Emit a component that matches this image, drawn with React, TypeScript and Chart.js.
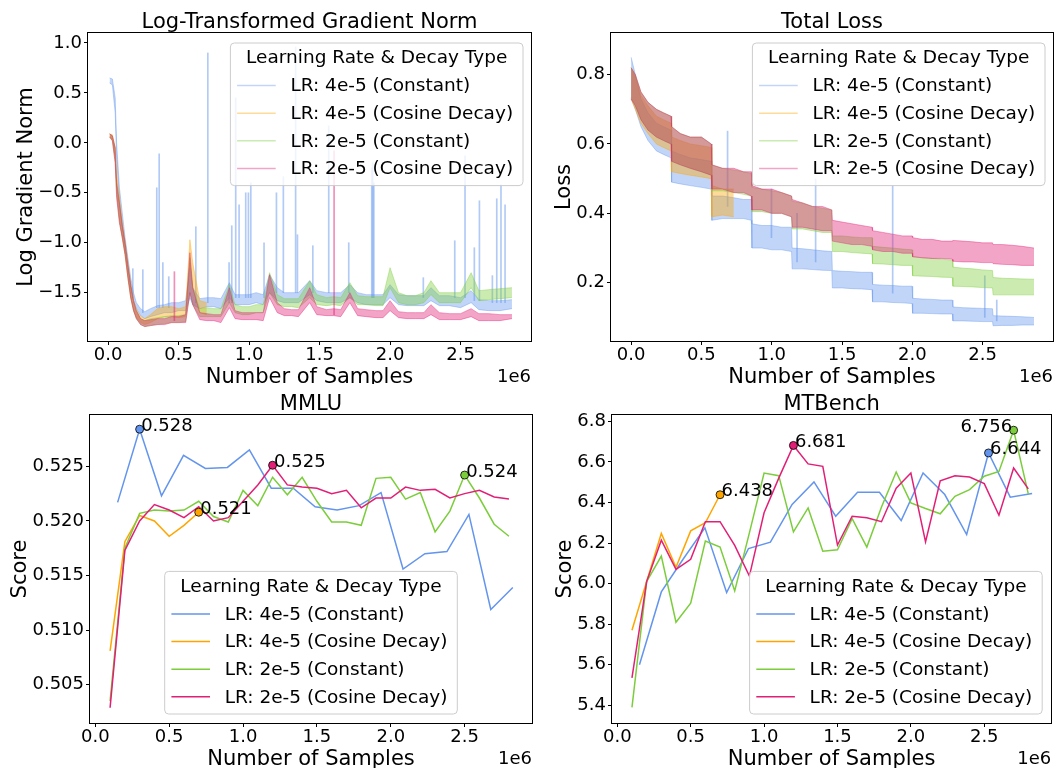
import React, { useEffect, useRef } from "react";
import { Chart, registerables } from "chart.js";
Chart.register(...registerables);

// ---------------- data ----------------
const SERIES_LABELS = [
  "LR: 4e-5 (Constant)",
  "LR: 4e-5 (Cosine Decay)",
  "LR: 2e-5 (Constant)",
  "LR: 2e-5 (Cosine Decay)",
];
const LEGEND_TITLE = "Learning Rate & Decay Type";
const SAMPLE_TICKS = [0, 0.5, 1.0, 1.5, 2.0, 2.5]; // x in units of 1e6

// Log gradient norm (training curve, envelope of the noisy trace)
const GN_X = [0.01, 0.03, 0.05, 0.06, 0.08, 0.1, 0.12, 0.14, 0.16, 0.18, 0.2, 0.23, 0.26, 0.3, 0.35, 0.4, 0.45, 0.5, 0.55, 0.58, 0.6, 0.65, 0.7, 0.75, 0.8, 0.86, 0.9, 0.95, 1.0, 1.05, 1.1, 1.145, 1.2, 1.25, 1.3, 1.35, 1.43, 1.48, 1.55, 1.6, 1.65, 1.715, 1.77, 1.83, 1.9, 1.95, 2.0, 2.06, 2.12, 2.18, 2.24, 2.29, 2.35, 2.42, 2.5, 2.575, 2.63, 2.7, 2.78, 2.865];
const GN_A_LO = [0.6, 0.58, 0.3, -0.15, -0.6, -0.85, -1.05, -1.25, -1.45, -1.58, -1.66, -1.73, -1.76, -1.74, -1.72, -1.7, -1.7, -1.68, -1.68, -1.55, -1.62, -1.66, -1.64, -1.64, -1.66, -1.55, -1.62, -1.62, -1.62, -1.6, -1.62, -1.5, -1.58, -1.6, -1.6, -1.6, -1.52, -1.58, -1.6, -1.6, -1.6, -1.55, -1.6, -1.62, -1.62, -1.62, -1.55, -1.62, -1.63, -1.63, -1.63, -1.58, -1.63, -1.63, -1.65, -1.6, -1.67, -1.68, -1.68, -1.66];
const GN_A_HI = [0.65, 0.64, 0.45, 0.0, -0.45, -0.7, -0.95, -1.15, -1.35, -1.5, -1.6, -1.66, -1.69, -1.66, -1.63, -1.62, -1.6, -1.6, -1.58, -1.25, -1.45, -1.56, -1.55, -1.55, -1.56, -1.4, -1.52, -1.52, -1.52, -1.5, -1.52, -1.32, -1.45, -1.5, -1.5, -1.5, -1.38, -1.48, -1.5, -1.5, -1.5, -1.42, -1.5, -1.52, -1.52, -1.52, -1.42, -1.52, -1.53, -1.53, -1.53, -1.45, -1.53, -1.53, -1.55, -1.48, -1.57, -1.58, -1.58, -1.57];
const GN_B_LO = [0.06, 0.03, -0.15, -0.45, -0.75, -0.95, -1.12, -1.35, -1.55, -1.68, -1.75, -1.8, -1.82, -1.8, -1.76, -1.74, -1.74, -1.75, -1.74, -1.2, -1.45, -1.7, -1.72];
const GN_B_HI = [0.09, 0.08, -0.05, -0.3, -0.55, -0.8, -1.0, -1.2, -1.42, -1.58, -1.67, -1.74, -1.76, -1.72, -1.66, -1.64, -1.64, -1.66, -1.64, -0.97, -1.2, -1.58, -1.6];
const GN_C_LO = [0.06, 0.02, -0.2, -0.52, -0.8, -0.95, -1.12, -1.35, -1.55, -1.68, -1.76, -1.82, -1.84, -1.83, -1.82, -1.81, -1.8, -1.8, -1.79, -1.5, -1.62, -1.74, -1.74, -1.74, -1.74, -1.6, -1.7, -1.72, -1.72, -1.7, -1.7, -1.5, -1.62, -1.64, -1.64, -1.65, -1.55, -1.62, -1.63, -1.62, -1.63, -1.55, -1.62, -1.62, -1.63, -1.63, -1.45, -1.6, -1.62, -1.62, -1.6, -1.52, -1.6, -1.6, -1.6, -1.45, -1.58, -1.57, -1.56, -1.55];
const GN_C_HI = [0.09, 0.07, -0.05, -0.38, -0.6, -0.82, -1.0, -1.22, -1.42, -1.58, -1.68, -1.76, -1.78, -1.76, -1.75, -1.74, -1.73, -1.73, -1.72, -1.15, -1.45, -1.66, -1.65, -1.66, -1.66, -1.42, -1.62, -1.64, -1.64, -1.62, -1.62, -1.3, -1.52, -1.56, -1.56, -1.56, -1.38, -1.52, -1.55, -1.54, -1.55, -1.4, -1.53, -1.54, -1.54, -1.54, -1.25, -1.5, -1.53, -1.53, -1.5, -1.38, -1.5, -1.5, -1.5, -1.3, -1.48, -1.47, -1.46, -1.45];
const GN_D_LO = [0.06, 0.02, -0.2, -0.55, -0.8, -0.95, -1.12, -1.35, -1.55, -1.68, -1.76, -1.82, -1.84, -1.83, -1.82, -1.82, -1.8, -1.8, -1.8, -1.5, -1.62, -1.77, -1.78, -1.78, -1.8, -1.65, -1.76, -1.77, -1.77, -1.77, -1.78, -1.55, -1.7, -1.73, -1.73, -1.74, -1.6, -1.72, -1.73, -1.73, -1.74, -1.6, -1.73, -1.74, -1.75, -1.75, -1.68, -1.75, -1.76, -1.76, -1.76, -1.72, -1.77, -1.77, -1.77, -1.74, -1.78, -1.78, -1.78, -1.76];
const GN_D_HI = [0.09, 0.07, -0.05, -0.4, -0.6, -0.82, -1.0, -1.22, -1.42, -1.58, -1.68, -1.76, -1.78, -1.77, -1.76, -1.76, -1.74, -1.74, -1.72, -1.1, -1.45, -1.7, -1.71, -1.72, -1.72, -1.45, -1.68, -1.7, -1.7, -1.7, -1.7, -1.32, -1.6, -1.66, -1.67, -1.67, -1.45, -1.64, -1.67, -1.66, -1.67, -1.5, -1.66, -1.67, -1.68, -1.68, -1.58, -1.69, -1.7, -1.7, -1.7, -1.62, -1.7, -1.71, -1.71, -1.66, -1.71, -1.71, -1.72, -1.72];
// isolated spikes of the gradient norm
const GN_A_SPIKE_X = [0.175, 0.246, 0.345, 0.362, 0.388, 0.43, 0.622, 0.707, 0.858, 0.877, 0.905, 0.929, 0.976, 0.995, 1.012, 1.106, 1.194, 1.243, 1.33, 1.343, 1.452, 1.565, 1.707, 1.87, 1.877, 1.885, 2.236, 2.459, 2.532, 2.598, 2.634, 2.726, 2.757, 2.787, 2.816];
const GN_A_SPIKE_LO = [-1.55, -1.7, -1.65, -1.65, -1.65, -1.65, -1.6, -1.6, -1.6, -1.6, -1.55, -1.55, -1.55, -1.55, -1.55, -1.55, -1.5, -1.5, -1.5, -1.5, -1.5, -1.5, -1.5, -1.55, -1.55, -1.55, -1.55, -1.55, -1.55, -1.58, -1.58, -1.6, -1.6, -1.6, -1.6];
const GN_A_SPIKE_HI = [-1.26, -1.27, -0.45, -0.11, -1.2, -1.34, -0.84, 0.9, -1.2, -0.83, 0.45, -0.62, -0.5, -0.5, -0.4, -1.0, -0.5, -0.34, 0.96, -0.92, -1.03, 0.17, -1.0, -0.25, -0.2, -0.4, -1.35, -0.98, -0.13, -1.05, -0.58, -1.33, -0.56, -0.42, -0.62];
const GN_D_SPIKE_X = [0.47, 1.603];
const GN_D_SPIKE_LO = [-1.78, -1.72];
const GN_D_SPIKE_HI = [-1.29, -0.08];

// Total loss (envelope of the noisy trace), epoch boundaries every ~0.286e6
const LOSS_X = [0.0, 0.03, 0.07, 0.12, 0.18, 0.23, 0.284, 0.288, 0.35, 0.42, 0.5, 0.57, 0.574, 0.65, 0.73, 0.8, 0.855, 0.859, 0.93, 1.0, 1.07, 1.141, 1.145, 1.22, 1.29, 1.36, 1.427, 1.431, 1.5, 1.57, 1.64, 1.713, 1.717, 1.79, 1.86, 1.93, 1.998, 2.002, 2.07, 2.14, 2.21, 2.284, 2.288, 2.36, 2.43, 2.5, 2.57, 2.574, 2.64, 2.71, 2.78, 2.865];
const LOSS_A_LO = [0.73, 0.7, 0.65, 0.61, 0.58, 0.57, 0.56, 0.49, 0.485, 0.48, 0.475, 0.47, 0.38, 0.385, 0.385, 0.385, 0.38, 0.3, 0.3, 0.295, 0.295, 0.29, 0.24, 0.24, 0.238, 0.236, 0.235, 0.185, 0.185, 0.183, 0.182, 0.18, 0.145, 0.145, 0.143, 0.142, 0.14, 0.112, 0.112, 0.111, 0.11, 0.11, 0.09, 0.09, 0.089, 0.088, 0.088, 0.076, 0.077, 0.077, 0.078, 0.078];
const LOSS_A_HI = [0.85, 0.8, 0.73, 0.69, 0.66, 0.65, 0.64, 0.58, 0.57, 0.56, 0.555, 0.55, 0.45, 0.45, 0.445, 0.44, 0.44, 0.37, 0.365, 0.365, 0.36, 0.36, 0.3, 0.298, 0.295, 0.292, 0.29, 0.235, 0.233, 0.232, 0.23, 0.23, 0.195, 0.193, 0.192, 0.19, 0.19, 0.155, 0.153, 0.152, 0.15, 0.15, 0.13, 0.128, 0.127, 0.126, 0.125, 0.105, 0.104, 0.103, 0.102, 0.1];
const LOSS_B_LO = [0.73, 0.7, 0.66, 0.63, 0.6, 0.59, 0.58, 0.52, 0.515, 0.51, 0.505, 0.5, 0.39, 0.395, 0.39];
const LOSS_B_HI = [0.82, 0.79, 0.74, 0.71, 0.68, 0.67, 0.66, 0.62, 0.61, 0.6, 0.595, 0.59, 0.48, 0.47, 0.47];
const LOSS_C_LO = [0.735, 0.71, 0.67, 0.64, 0.62, 0.61, 0.6, 0.55, 0.54, 0.53, 0.52, 0.51, 0.465, 0.465, 0.46, 0.455, 0.45, 0.405, 0.405, 0.4, 0.4, 0.39, 0.355, 0.355, 0.35, 0.345, 0.345, 0.29, 0.29, 0.287, 0.285, 0.283, 0.255, 0.254, 0.252, 0.25, 0.25, 0.22, 0.219, 0.218, 0.216, 0.215, 0.19, 0.189, 0.188, 0.186, 0.185, 0.165, 0.165, 0.165, 0.165, 0.165];
const LOSS_C_HI = [0.82, 0.8, 0.75, 0.72, 0.7, 0.69, 0.68, 0.65, 0.63, 0.62, 0.62, 0.6, 0.54, 0.53, 0.525, 0.52, 0.515, 0.475, 0.47, 0.465, 0.46, 0.45, 0.435, 0.43, 0.42, 0.415, 0.41, 0.335, 0.335, 0.332, 0.33, 0.33, 0.305, 0.302, 0.3, 0.297, 0.295, 0.275, 0.272, 0.27, 0.268, 0.265, 0.245, 0.242, 0.24, 0.237, 0.235, 0.215, 0.213, 0.212, 0.211, 0.21];
const LOSS_D_LO = [0.73, 0.71, 0.67, 0.64, 0.62, 0.61, 0.6, 0.55, 0.54, 0.53, 0.52, 0.51, 0.47, 0.47, 0.46, 0.46, 0.45, 0.41, 0.41, 0.4, 0.4, 0.39, 0.36, 0.36, 0.355, 0.35, 0.35, 0.32, 0.315, 0.31, 0.31, 0.305, 0.295, 0.29, 0.29, 0.285, 0.285, 0.275, 0.272, 0.27, 0.27, 0.268, 0.262, 0.26, 0.26, 0.258, 0.258, 0.255, 0.253, 0.252, 0.25, 0.25];
const LOSS_D_HI = [0.82, 0.8, 0.75, 0.72, 0.7, 0.69, 0.68, 0.65, 0.63, 0.62, 0.62, 0.6, 0.54, 0.53, 0.53, 0.52, 0.52, 0.48, 0.47, 0.47, 0.46, 0.45, 0.44, 0.43, 0.42, 0.42, 0.41, 0.38, 0.375, 0.37, 0.365, 0.36, 0.35, 0.345, 0.34, 0.335, 0.335, 0.33, 0.325, 0.325, 0.32, 0.32, 0.322, 0.32, 0.318, 0.315, 0.315, 0.31, 0.31, 0.308, 0.305, 0.3];
const LOSS_A_SPIKE_X = [0.686, 0.998, 1.18, 1.312, 1.86, 2.515, 2.6];
const LOSS_A_SPIKE_LO = [0.42, 0.33, 0.26, 0.26, 0.17, 0.1, 0.09];
const LOSS_A_SPIKE_HI = [0.637, 0.47, 0.4, 0.5, 0.48, 0.22, 0.15];

// Evaluation checkpoints
const EVAL_X = [0.1, 0.2, 0.3, 0.4, 0.5, 0.6, 0.7, 0.8, 0.9, 1.0, 1.1, 1.2, 1.3, 1.4, 1.5, 1.6, 1.7, 1.8, 1.9, 2.0, 2.1, 2.2, 2.3, 2.4, 2.5, 2.6, 2.7, 2.8];
const EVAL_X_A = [0.151, 0.3, 0.448, 0.597, 0.745, 0.894, 1.043, 1.191, 1.34, 1.488, 1.637, 1.786, 1.934, 2.083, 2.231, 2.38, 2.529, 2.677, 2.826];

const MMLU_A = [0.5217, 0.5284, 0.5223, 0.526, 0.5248, 0.5249, 0.5265, 0.523, 0.523, 0.5213, 0.521, 0.5214, 0.5226, 0.5156, 0.517, 0.5172, 0.5206, 0.5119, 0.5139];
const MMLU_B = [0.5081, 0.5181, 0.5205, 0.52, 0.5186, 0.5196, 0.5208];
const MMLU_C = [0.5035, 0.5175, 0.5207, 0.521, 0.5209, 0.521, 0.5218, 0.5204, 0.5199, 0.5228, 0.5214, 0.524, 0.5224, 0.524, 0.5218, 0.5199, 0.5199, 0.5196, 0.5239, 0.524, 0.522, 0.5226, 0.519, 0.5209, 0.5242, 0.5221, 0.5197, 0.5186];
const MMLU_D = [0.5029, 0.5173, 0.52, 0.5215, 0.521, 0.5203, 0.5213, 0.52, 0.5203, 0.5218, 0.5233, 0.5251, 0.5233, 0.5231, 0.523, 0.5225, 0.5228, 0.5212, 0.5221, 0.5221, 0.5231, 0.5228, 0.5229, 0.5221, 0.5225, 0.5228, 0.5222, 0.522];

const MT_A = [5.6, 5.959, 6.12, 6.275, 5.956, 6.173, 6.204, 6.39, 6.501, 6.332, 6.45, 6.45, 6.311, 6.545, 6.439, 6.242, 6.644, 6.426, 6.444];
const MT_B = [5.77, 6.01, 6.247, 6.08, 6.26, 6.3, 6.438];
const MT_C = [5.39, 6.01, 6.136, 5.81, 5.903, 6.21, 6.18, 5.964, 6.25, 6.545, 6.532, 6.255, 6.373, 6.16, 6.167, 6.32, 6.18, 6.378, 6.55, 6.398, 6.37, 6.344, 6.43, 6.463, 6.529, 6.553, 6.756, 6.442];
const MT_D = [5.535, 6.01, 6.214, 6.07, 6.12, 6.305, 6.305, 6.188, 6.037, 6.349, 6.52, 6.681, 6.59, 6.578, 6.19, 6.332, 6.325, 6.305, 6.47, 6.545, 6.206, 6.507, 6.532, 6.525, 6.493, 6.337, 6.57, 6.467];

const GN_TICKS = [-1.5, -1.0, -0.5, 0.0, 0.5, 1.0];
const LOSS_TICKS = [0.2, 0.4, 0.6, 0.8];
const MMLU_TICKS = [0.505, 0.51, 0.515, 0.52, 0.525];
const MT_TICKS = [5.4, 5.6, 5.8, 6.0, 6.2, 6.4, 6.6, 6.8];

// ---------------- styles ----------------
type RGB = [number, number, number];
const C_BLUE: RGB = [100, 149, 237];
const C_ORANGE: RGB = [255, 165, 0];
const C_GREEN: RGB = [124, 205, 60];
const C_PINK: RGB = [226, 31, 118];
const SERIES_COLORS: RGB[] = [C_BLUE, C_ORANGE, C_GREEN, C_PINK];
const rgba = (c: RGB, a: number) => `rgba(${c[0]},${c[1]},${c[2]},${a})`;
const FONT = "'DejaVu Sans', 'Liberation Sans', sans-serif";
const LEGEND_FONT = 18.5;

const pts = (xs: number[], ys: number[]) => ys.map((y, i) => ({ x: xs[i], y }));

function band(xs: number[], lo: number[], hi: number[], c: RGB, order: number) {
  return [
    { type: "line", data: pts(xs, lo), borderColor: rgba(c, 0.4), backgroundColor: rgba(c, 0.4), borderWidth: 1, pointRadius: 0, fill: "+1", order, tension: 0 },
    { type: "line", data: pts(xs, hi), borderColor: rgba(c, 0.4), backgroundColor: rgba(c, 0.4), borderWidth: 1, pointRadius: 0, fill: false, order, tension: 0 },
  ];
}
function spikes(xs: number[], lo: number[], hi: number[], c: RGB, order: number) {
  return {
    type: "bar",
    data: xs.map((x, i) => ({ x, y: [lo[i], hi[i]] })),
    backgroundColor: rgba(c, 0.5),
    borderWidth: 0,
    barThickness: 1,
    grouped: false,
    order,
  };
}
function evalLine(xs: number[], ys: number[], c: RGB, order: number) {
  return { type: "line", data: pts(xs, ys), borderColor: rgba(c, 1), borderWidth: 1.5, pointRadius: 0, fill: false, order, tension: 0 };
}
function argmax(ys: number[]) {
  let k = 0;
  ys.forEach((v, i) => { if (v > ys[k]) k = i; });
  return k;
}
function marker(xs: number[], ys: number[], c: RGB) {
  const k = argmax(ys);
  return { type: "line", data: [{ x: xs[k], y: ys[k] }], showLine: false, pointRadius: 4, pointBackgroundColor: rgba(c, 1), pointBorderColor: "#000", pointBorderWidth: 0.8, order: 0 };
}

type Spec = any;

const fmtMinus = (v: number, d: number) => {
  const s = Math.abs(v).toFixed(d);
  return v < -1e-9 ? "\u2212" + s : s;
};

function drawLegend(ctx: CanvasRenderingContext2D, x: number, y: number, light: boolean) {
  const w = 292.6, h = 142.6, r = 4;
  ctx.save();
  ctx.beginPath();
  ctx.moveTo(x + r, y);
  ctx.lineTo(x + w - r, y);
  ctx.arcTo(x + w, y, x + w, y + r, r);
  ctx.lineTo(x + w, y + h - r);
  ctx.arcTo(x + w, y + h, x + w - r, y + h, r);
  ctx.lineTo(x + r, y + h);
  ctx.arcTo(x, y + h, x, y + h - r, r);
  ctx.lineTo(x, y + r);
  ctx.arcTo(x, y, x + r, y, r);
  ctx.closePath();
  ctx.fillStyle = "rgba(255,255,255,0.8)";
  ctx.fill();
  ctx.strokeStyle = "rgba(204,204,204,1)";
  ctx.lineWidth = 1;
  ctx.stroke();
  ctx.fillStyle = "#000";
  ctx.font = `${LEGEND_FONT}px ${FONT}`;
  ctx.textAlign = "center";
  ctx.textBaseline = "middle";
  ctx.fillText(LEGEND_TITLE, x + w / 2, y + 15.5);
  ctx.textAlign = "left";
  SERIES_LABELS.forEach((lab, i) => {
    const cy = y + 42.6 + i * 27.6;
    ctx.strokeStyle = rgba(SERIES_COLORS[i], light ? 0.4 : 1);
    ctx.lineWidth = 1.5;
    ctx.beginPath();
    ctx.moveTo(x + 6.7, cy);
    ctx.lineTo(x + 45.3, cy);
    ctx.stroke();
    ctx.fillStyle = "#000";
    ctx.fillText(lab, x + 60, cy + 1);
  });
  ctx.restore();
}

function decor(spec: Spec) {
  return {
    id: "decor",
    afterDraw(chart: any) {
      const ctx: CanvasRenderingContext2D = chart.ctx;
      const a = chart.chartArea;
      const sx = chart.scales.x, sy = chart.scales.y;
      ctx.save();
      // frame
      ctx.strokeStyle = "#000";
      ctx.lineWidth = 1;
      ctx.strokeRect(Math.round(a.left) - 0.5, Math.round(a.top) - 0.5, Math.round(a.right - a.left) + 1, Math.round(a.bottom - a.top) + 1);
      // annotations
      ctx.font = `18px ${FONT}`;
      ctx.fillStyle = "#000";
      ctx.textBaseline = "alphabetic";
      (spec.annotations || []).forEach((an: any) => {
        const k = argmax(an.ys);
        const px = sx.getPixelForValue(an.xs[k]);
        const py = sy.getPixelForValue(an.ys[k]);
        ctx.textAlign = an.align;
        ctx.fillText(an.ys[k].toFixed(3), px + (an.align === "left" ? 1.5 : -1.5), py + 1.5);
      });
      // title
      const cx = (a.left + a.right) / 2;
      ctx.textAlign = "center";
      ctx.font = `21px ${FONT}`;
      ctx.fillText(spec.title, cx, a.top - 5);
      // x title
      ctx.fillText("Number of Samples", cx, a.bottom + 42);
      // offset text
      ctx.font = `18px ${FONT}`;
      ctx.textAlign = "right";
      ctx.fillText("1e6", a.right, a.bottom + 40.5);
      // y title
      ctx.save();
      ctx.translate(spec.yTitleX, (a.top + a.bottom) / 2);
      ctx.rotate(-Math.PI / 2);
      ctx.textAlign = "center";
      ctx.font = `21px ${FONT}`;
      ctx.fillText(spec.yTitle, 0, 0);
      ctx.restore();
      // legend
      const lg = spec.legend;
      let lx = 0, ly = 0;
      if (lg.pos === "upper right") { lx = a.right - 8 - 292.6; ly = a.top + 10; }
      else if (lg.pos === "lower center") { lx = cx - 146.3; ly = a.bottom - 9 - 142.6; }
      else { lx = a.right - 9 - 292.6; ly = a.bottom - 9 - 142.6; }
      drawLegend(ctx, lx, ly, lg.light);
      ctx.restore();
    },
  };
}

function buildConfig(spec: Spec) {
  const tickFont = { family: FONT, size: 18, lineHeight: 1 };
  return {
    type: "line",
    data: { datasets: spec.datasets },
    options: {
      responsive: false,
      maintainAspectRatio: false,
      animation: false,
      devicePixelRatio: 1,
      events: [],
      layout: { padding: { left: 0, top: spec.area.t, right: spec.width - spec.area.r, bottom: 0 } },
      plugins: { legend: { display: false }, title: { display: false }, tooltip: { enabled: false } },
      scales: {
        x: {
          type: "linear",
          min: spec.xMin,
          max: spec.xMax,
          offset: false,
          afterBuildTicks: (s: any) => { s.ticks = SAMPLE_TICKS.map((v) => ({ value: v })); },
          afterFit: (s: any) => { s.height = spec.height - spec.area.b; },
          ticks: { callback: (v: number) => v.toFixed(1), font: tickFont, color: "#000", padding: 1, maxRotation: 0, autoSkip: false },
          grid: { display: true, offset: false, drawOnChartArea: false, drawTicks: true, tickLength: 4, tickColor: "#000" },
          border: { display: false },
        },
        y: {
          type: "linear",
          min: spec.yMin,
          max: spec.yMax,
          offset: false,
          afterBuildTicks: (s: any) => { s.ticks = spec.yTicks.map((v: number) => ({ value: v })); },
          afterFit: (s: any) => { s.width = spec.area.l; },
          ticks: { callback: (v: number) => fmtMinus(v, spec.yDec), font: tickFont, color: "#000", padding: 2, autoSkip: false },
          grid: { display: true, offset: false, drawOnChartArea: false, drawTicks: true, tickLength: 4, tickColor: "#000" },
          border: { display: false },
        },
      },
    },
    plugins: [decor(spec)],
  };
}

const SPECS: Spec[] = [
  {
    left: 0, top: 0, width: 540, height: 384,
    area: { l: 88, t: 33, r: 531, b: 341 },
    xMin: -0.143, xMax: 3.0, yMin: -1.984, yMax: 1.1, yTicks: GN_TICKS, yDec: 1,
    title: "Log-Transformed Gradient Norm", yTitle: "Log Gradient Norm", yTitleX: 31.5,
    legend: { pos: "upper right", light: true },
    datasets: [
      ...band(GN_X, GN_D_LO, GN_D_HI, C_PINK, 1),
      spikes(GN_D_SPIKE_X, GN_D_SPIKE_LO, GN_D_SPIKE_HI, C_PINK, 1),
      ...band(GN_X, GN_C_LO, GN_C_HI, C_GREEN, 2),
      ...band(GN_X, GN_B_LO, GN_B_HI, C_ORANGE, 3),
      ...band(GN_X, GN_A_LO, GN_A_HI, C_BLUE, 4),
      spikes(GN_A_SPIKE_X, GN_A_SPIKE_LO, GN_A_SPIKE_HI, C_BLUE, 4),
    ],
  },
  {
    left: 540, top: 0, width: 516, height: 384,
    area: { l: 71, t: 33, r: 513, b: 341 },
    xMin: -0.143, xMax: 3.0, yMin: 0.032, yMax: 0.92, yTicks: LOSS_TICKS, yDec: 1,
    title: "Total Loss", yTitle: "Loss", yTitleX: 30,
    legend: { pos: "upper right", light: true },
    datasets: [
      ...band(LOSS_X, LOSS_D_LO, LOSS_D_HI, C_PINK, 1),
      ...band(LOSS_X, LOSS_C_LO, LOSS_C_HI, C_GREEN, 2),
      ...band(LOSS_X, LOSS_B_LO, LOSS_B_HI, C_ORANGE, 3),
      ...band(LOSS_X, LOSS_A_LO, LOSS_A_HI, C_BLUE, 4),
      spikes(LOSS_A_SPIKE_X, LOSS_A_SPIKE_LO, LOSS_A_SPIKE_HI, C_BLUE, 4),
    ],
  },
  {
    left: 0, top: 384, width: 540, height: 384,
    area: { l: 90, t: 31, r: 532, b: 339 },
    xMin: -0.036, xMax: 2.956, yMin: 0.5015, yMax: 0.5297, yTicks: MMLU_TICKS, yDec: 3,
    title: "MMLU", yTitle: "Score", yTitleX: 25.7,
    legend: { pos: "lower center", light: false },
    annotations: [
      { xs: EVAL_X_A, ys: MMLU_A, align: "left" },
      { xs: EVAL_X, ys: MMLU_B, align: "left" },
      { xs: EVAL_X, ys: MMLU_C, align: "left" },
      { xs: EVAL_X, ys: MMLU_D, align: "left" },
    ],
    datasets: [
      marker(EVAL_X_A, MMLU_A, C_BLUE),
      marker(EVAL_X, MMLU_B, C_ORANGE),
      marker(EVAL_X, MMLU_C, C_GREEN),
      marker(EVAL_X, MMLU_D, C_PINK),
      evalLine(EVAL_X, MMLU_D, C_PINK, 1),
      evalLine(EVAL_X, MMLU_C, C_GREEN, 2),
      evalLine(EVAL_X, MMLU_B, C_ORANGE, 3),
      evalLine(EVAL_X_A, MMLU_A, C_BLUE, 4),
    ],
  },
  {
    left: 540, top: 384, width: 516, height: 384,
    area: { l: 72, t: 31, r: 514, b: 339 },
    xMin: -0.036, xMax: 2.956, yMin: 5.313, yMax: 6.831, yTicks: MT_TICKS, yDec: 1,
    title: "MTBench", yTitle: "Score", yTitleX: 30.6,
    legend: { pos: "lower right", light: false },
    annotations: [
      { xs: EVAL_X_A, ys: MT_A, align: "left" },
      { xs: EVAL_X, ys: MT_B, align: "left" },
      { xs: EVAL_X, ys: MT_C, align: "right" },
      { xs: EVAL_X, ys: MT_D, align: "left" },
    ],
    datasets: [
      marker(EVAL_X_A, MT_A, C_BLUE),
      marker(EVAL_X, MT_B, C_ORANGE),
      marker(EVAL_X, MT_C, C_GREEN),
      marker(EVAL_X, MT_D, C_PINK),
      evalLine(EVAL_X, MT_D, C_PINK, 1),
      evalLine(EVAL_X, MT_C, C_GREEN, 2),
      evalLine(EVAL_X, MT_B, C_ORANGE, 3),
      evalLine(EVAL_X_A, MT_A, C_BLUE, 4),
    ],
  },
];

function Panel({ spec }: { spec: Spec }) {
  const ref = useRef<HTMLCanvasElement>(null);
  useEffect(() => {
    const chart = new Chart(ref.current as HTMLCanvasElement, buildConfig(spec) as any);
    return () => chart.destroy();
  }, [spec]);
  return (
    <canvas
      ref={ref}
      width={spec.width}
      height={spec.height}
      style={{ position: "absolute", left: spec.left, top: spec.top, width: spec.width, height: spec.height }}
    />
  );
}

export default function App() {
  return (
    <div style={{ position: "absolute", left: 0, top: 0, width: 1056, height: 768, background: "#fff", overflow: "hidden" }}>
      {SPECS.map((s, i) => (
        <Panel key={i} spec={s} />
      ))}
    </div>
  );
}
